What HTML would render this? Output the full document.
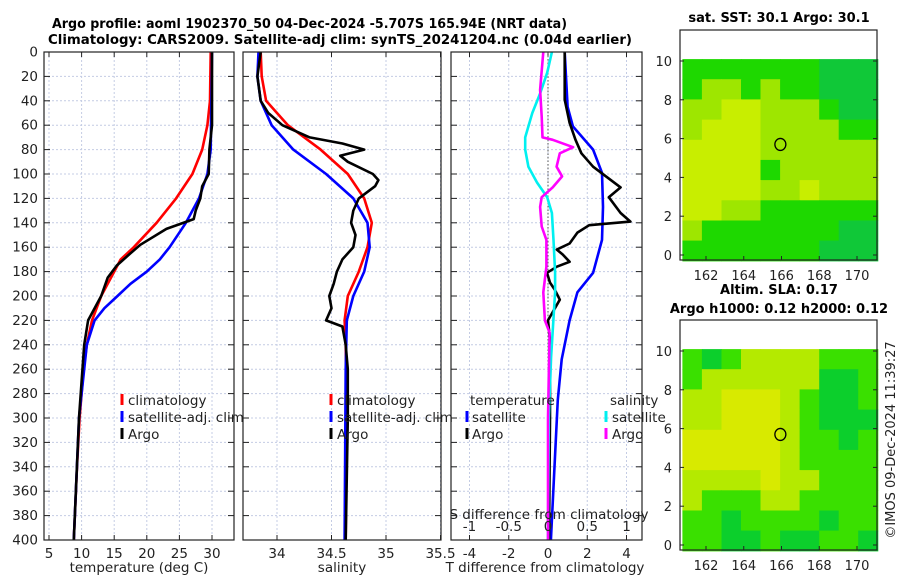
<!DOCTYPE html>
<html><head><meta charset="utf-8">
<style>
body{margin:0;background:#fff;}
svg{display:block;font-family:"DejaVu Sans","Liberation Sans",sans-serif;}
</style></head>
<body>
<svg id="fig" width="900" height="580" viewBox="0 0 900 580" xmlns="http://www.w3.org/2000/svg">
<text x="52" y="28" textLength="515" lengthAdjust="spacingAndGlyphs" font-size="13" font-weight="bold" fill="#000">Argo profile: aoml 1902370_50 04-Dec-2024 -5.707S 165.94E (NRT data)</text>
<text x="48" y="44" textLength="584" lengthAdjust="spacingAndGlyphs" font-size="13" font-weight="bold" fill="#000">Climatology: CARS2009. Satellite-adj clim: synTS_20241204.nc (0.04d earlier)</text>
<text x="779" y="22" text-anchor="middle" font-size="13" font-weight="bold">sat. SST: 30.1 Argo: 30.1</text>
<text x="779" y="294" text-anchor="middle" font-size="13" font-weight="bold">Altim. SLA: 0.17</text>
<text x="779" y="313" text-anchor="middle" font-size="13" font-weight="bold">Argo h1000: 0.12 h2000: 0.12</text>
<text transform="translate(895,440) rotate(-90)" text-anchor="middle" font-size="13" fill="#222">©IMOS 09-Dec-2024 11:39:27</text>
<g id="layer"></g>
</svg>
<script>
// ---------- data ----------
const depthTicks=[0,20,40,60,80,100,120,140,160,180,200,220,240,260,280,300,320,340,360,380,400];
// temperature panel
const tempTicks=[5,10,15,20,25,30];
const climTDepth=[0,40,60,80,100,120,140,160,170,180,190,200,220,240,260,300,340,400];
const climTVal=[29.8,29.7,29.3,28.5,27,24.5,21.5,18,16,15,14,13,11.6,10.8,10.3,9.7,9.3,8.8];
const satTDepth=[0,80,100,120,140,160,170,180,190,200,210,220,240,260,300,400];
const satTVal=[30,29.8,29.3,28,26,23.5,22,20,17.5,15.5,13.5,12,10.8,10.4,9.6,8.8];
const argoTDepth=[0,60,80,100,110,120,130,137,145,158,165,175,185,200,220,240,300,400];
const argoTVal=[30,30,29.6,29.5,28.5,28.2,27.5,27.2,23,19,17.5,15.4,14,13,11,10.4,9.6,8.8];
// salinity panel
const salTicks=[34,34.5,35,35.5];
const climSDepth=[0,20,40,60,80,100,120,140,160,180,200,220,240,300,400];
const climSVal=[33.85,33.86,33.9,34.1,34.4,34.65,34.8,34.87,34.83,34.75,34.65,34.62,34.63,34.64,34.63];
const satSDepth=[0,20,40,60,80,100,120,140,160,180,200,220,260,400];
const satSVal=[33.83,33.82,33.85,33.95,34.15,34.45,34.7,34.83,34.85,34.8,34.7,34.64,34.63,34.62];
const argoSDepth=[0,20,40,50,60,70,75,80,85,90,100,105,110,120,130,140,150,160,170,180,190,200,210,220,225,240,260,300,400];
const argoSVal=[33.85,33.82,33.85,33.92,34.05,34.3,34.6,34.8,34.58,34.65,34.88,34.93,34.9,34.75,34.7,34.68,34.72,34.7,34.6,34.55,34.52,34.48,34.5,34.45,34.6,34.63,34.65,34.65,34.63];
// difference panel
const dTTicks=[-4,-2,0,2,4];
const dSTicks=[-1,-0.5,0,0.5,1];
const satDTDepth=[0,45,61,80,99,127,154,181,197,220,252,285,400];
const satDTVal=[0.85,1.0,1.27,2.3,2.75,2.8,2.75,2.3,1.5,1.1,0.7,0.5,0.15];
const argoDTDepth=[0,39,58,72,83,94,111,119,132,139,142,148,157,162,166,172,176,181,189,195,203,220,236,300,400];
const argoDTVal=[0.85,0.85,1.1,1.4,1.7,2.3,3.7,3.1,3.7,4.2,2.1,1.5,1.1,0.45,0.75,1.1,0.45,-0.05,0.1,0.35,0.6,0.0,0.1,0.1,0.05];
const satDSDepth=[0,17,34,50,70,80,94,107,119,132,154,181,197,250,300,400];
const satDSVal=[0.05,-0.01,-0.1,-0.2,-0.29,-0.29,-0.25,-0.14,-0.01,0.05,0.07,0.09,0.09,0.04,0.01,0];
const argoDSDepth=[0,31,53,70,72,78,83,94,102,111,119,127,143,154,176,197,220,230,300,400];
const argoDSVal=[-0.06,-0.1,-0.08,-0.07,0.06,0.32,0.15,0.11,0.18,0.06,-0.08,-0.1,-0.08,-0.02,-0.02,-0.06,-0.04,0.02,0,0];
// maps (rows lat 10->0, cols lon 161->171), levels 0..3
const mapLonTicks=[162,164,166,168,170];
const mapLatTicks=[0,2,4,6,8,10];
const sstGrid=[
[1,1,1,1,1,1,1,0,0,0],
[1,2,2,1,2,1,1,0,0,0],
[2,2,3,3,2,2,2,1,0,0],
[2,3,3,3,2,2,2,2,1,1],
[3,3,3,3,2,2,2,2,2,2],
[3,3,3,3,1,2,2,2,2,2],
[3,3,3,3,2,2,3,2,2,2],
[3,3,2,2,1,1,1,1,1,1],
[2,1,1,1,1,1,1,1,0,0],
[1,1,1,1,1,1,1,0,0,0]];
const slaGrid=[
[1,0,1,2,2,2,2,1,1,1],
[1,2,2,2,2,2,2,0,0,1],
[2,2,3,3,3,2,1,0,0,1],
[2,2,3,3,3,2,1,0,0,0],
[3,3,3,3,3,2,1,1,0,1],
[3,3,3,3,3,2,1,1,1,1],
[2,2,2,2,3,2,2,1,1,1],
[2,1,1,1,2,2,1,1,1,1],
[1,1,0,1,1,1,1,0,1,1],
[1,1,0,0,1,0,0,1,1,0]];
const sstColors=['#10c838','#1ed800','#9ee600','#c8ee00'];
const slaColors=['#0ccf2c','#3ae000','#b4ea00','#d8ea00'];
const floatLon=165.94, floatLat=5.7;

// ---------- drawing ----------
const NS='http://www.w3.org/2000/svg';
const layer=document.getElementById('layer');
function mk(tag,attrs,parent){const e=document.createElementNS(NS,tag);for(const k in attrs)e.setAttribute(k,attrs[k]);(parent||layer).appendChild(e);return e;}
const yTop=52,yBot=540;
const FS=13.5;
function yD(d){return yTop+(d/400)*(yBot-yTop);}
function lin(d0,d1,r0,r1){return v=>r0+(v-d0)/(d1-d0)*(r1-r0);}

function panel(name,x0,x1,xscale,ticks,fmt,showY){
  const g=mk('g',{});
  
  
  ticks.forEach(t=>{const x=xscale(t);
    const l=mk('line',{x1:x,x2:x,y1:yTop,y2:yBot,stroke:'#c4cce4','stroke-width':1,'stroke-dasharray':'2,2'},g);
    
    mk('line',{x1:x,x2:x,y1:yBot,y2:yBot-5,stroke:'#222'},g);
    mk('line',{x1:x,x2:x,y1:yTop,y2:yTop+5,stroke:'#222'},g);
    if(fmt){const tx=mk('text',{x:x,y:yBot+18,'text-anchor':'middle','font-size':FS,fill:'#222'},g);tx.textContent=fmt(t);
      }
  });
  depthTicks.forEach(d=>{const y=yD(d);
    mk('line',{x1:x0,x2:x1,y1:y,y2:y,stroke:'#c4cce4','stroke-width':1,'stroke-dasharray':'2,2'},g);
    mk('line',{x1:x0,x2:x0+6,y1:y,y2:y,stroke:'#222'},g);
    mk('line',{x1:x1,x2:x1-6,y1:y,y2:y,stroke:'#222'},g);
    if(showY){const tx=mk('text',{x:x0-6,y:y+4.5,'text-anchor':'end','font-size':FS,fill:'#222'},g);tx.textContent=d;
      }
  });
  return g;
}
function series(g,name,depths,vals,xs,color,w){
  const pts=depths.map((d,i)=>xs(vals[i]).toFixed(1)+','+yD(d).toFixed(1)).join(' ');
  const p=mk('polyline',{points:pts,fill:'none',stroke:color,'stroke-width':w||2.6,'stroke-linejoin':'round'},g);
  
  
}
function frame(g,name,x0,x1,y0,y1){
  const r=mk('rect',{x:x0,y:y0,width:x1-x0,height:y1-y0,fill:'none',stroke:'#222','stroke-width':1.2},g);
  
}
function label(g,name,x,y,txt,anchor,size){
  const t=mk('text',{x:x,y:y,'text-anchor':anchor||'start','font-size':size||FS,fill:'#222'},g);
  t.textContent=txt;return t;
}
function legMark(g,name,x,y,color){
  const l=mk('line',{x1:x,x2:x,y1:y-11,y2:y,stroke:color,'stroke-width':3},g);
  
}

// Panel 1: temperature
const xT=lin(5,30,49,212);
const g1=panel('temperature',44,234,xT,tempTicks,t=>t,true);
series(g1,'temperature-climatology-line',climTDepth,climTVal,xT,'#ff0000');
series(g1,'temperature-satellite-adj-line',satTDepth,satTVal,xT,'#0000ff');
series(g1,'temperature-argo-line',argoTDepth,argoTVal,xT,'#000000');
frame(g1,'temperature',44,234,yTop,yBot);
label(g1,'temperature-x-axis-title',139,572,'temperature (deg C)','middle');
legMark(g1,'legend-climatology-mark',122,405,'#ff0000');label(g1,'legend-climatology',128,405,'climatology');
legMark(g1,'legend-satellite-mark',122,422,'#0000ff');label(g1,'legend-satellite-adj',128,422,'satellite-adj. clim');
legMark(g1,'legend-argo-mark',122,439,'#000');label(g1,'legend-argo',128,439,'Argo');

// Panel 2: salinity
const xS=lin(34,35.5,277,440.5);
const g2=panel('salinity',243,441,xS,salTicks,t=>t,false);
series(g2,'salinity-climatology-line',climSDepth,climSVal,xS,'#ff0000');
series(g2,'salinity-satellite-adj-line',satSDepth,satSVal,xS,'#0000ff');
series(g2,'salinity-argo-line',argoSDepth,argoSVal,xS,'#000000');
frame(g2,'salinity',243,441,yTop,yBot);
label(g2,'salinity-x-axis-title',342,572,'salinity','middle');
legMark(g2,'legend2-climatology-mark',331,405,'#ff0000');label(g2,'legend2-climatology',337,405,'climatology');
legMark(g2,'legend2-satellite-mark',331,422,'#0000ff');label(g2,'legend2-satellite-adj',337,422,'satellite-adj. clim');
legMark(g2,'legend2-argo-mark',331,439,'#000');label(g2,'legend2-argo',337,439,'Argo');

// Panel 3: differences
const xDT=lin(0,4,548,626.5);
const xDS=lin(0,1,548,626.5);
const g3=panel('difference',451,642,xDT,dTTicks,t=>t,false);
const z=mk('line',{x1:548,x2:548,y1:yTop,y2:yBot,stroke:'#555','stroke-width':1,'stroke-dasharray':'1.5,2'},g3);

series(g3,'t-diff-satellite-line',satDTDepth,satDTVal,xDT,'#0000ff');
series(g3,'t-diff-argo-line',argoDTDepth,argoDTVal,xDT,'#000000');
series(g3,'s-diff-satellite-line',satDSDepth,satDSVal,xDS,'#00f0f0');
series(g3,'s-diff-argo-line',argoDSDepth,argoDSVal,xDS,'#ff00ff');
frame(g3,'difference',451,642,yTop,yBot);
dSTicks.forEach(s=>{label(g3,'s-diff-tick-label',xDS(s),531,s,'middle');});
label(g3,'s-diff-axis-title',549,519,'S difference from climatology','middle');
label(g3,'t-diff-axis-title',545,572,'T difference from climatology','middle');
label(g3,'legend3-temperature-header',470,405,'temperature');
label(g3,'legend3-salinity-header',610,405,'salinity');
legMark(g3,'legend3-t-sat-mark',467,422,'#0000ff');label(g3,'legend3-t-satellite',472,422,'satellite');
legMark(g3,'legend3-t-argo-mark',467,439,'#000');label(g3,'legend3-t-argo',472,439,'Argo');
legMark(g3,'legend3-s-sat-mark',606,422,'#00f0f0');label(g3,'legend3-s-satellite',612,422,'satellite');
legMark(g3,'legend3-s-argo-mark',606,439,'#ff00ff');label(g3,'legend3-s-argo',612,439,'Argo');

// Maps
function drawMap(name,grid,colors,top,bottom,lat0px,lat10px){
  const g=mk('g',{});
  const xL=lin(162,170,706,857), yL=lin(0,10,lat0px,lat10px);
  const lonEdges=[160.75,171.1], latTop=10.1, latBot=-0.3;
  const nC=grid[0].length,nR=grid.length;
  const cw=(lonEdges[1]-lonEdges[0])/nC, ch=(latTop-latBot)/nR;
  grid.forEach((row,r)=>row.forEach((v,c)=>{
    const x=xL(lonEdges[0]+c*cw), y=yL(latTop-r*ch);
    const rc=mk('rect',{x:x.toFixed(1),y:y.toFixed(1),width:(xL(lonEdges[0]+(c+1)*cw)-x+0.6).toFixed(1),height:(yL(latTop-(r+1)*ch)-y+0.6).toFixed(1),fill:colors[v]},g);
    
    
  }));
  mapLonTicks.forEach(l=>{const x=xL(l);
    mk('line',{x1:x,x2:x,y1:bottom,y2:bottom-4,stroke:'#222'},g);
    label(g,name+'-lon-label',x,bottom+20,l,'middle',13);});
  mapLatTicks.forEach(l=>{const y=yL(l);
    mk('line',{x1:680,x2:684,y1:y,y2:y,stroke:'#222'},g);
    mk('line',{x1:877,x2:873,y1:y,y2:y,stroke:'#222'},g);
    label(g,name+'-lat-label',672,y+5,l,'end',13);});
  const c=mk('ellipse',{cx:xL(floatLon),cy:yL(floatLat),rx:5.5,ry:6,fill:'none',stroke:'#000','stroke-width':1.3},g);
  
  mk('rect',{x:680,y:top,width:197,height:bottom-top,fill:'none',stroke:'#222','stroke-width':1.2},g);
}
drawMap('sst-map',sstGrid,sstColors,30,260,255,61);
drawMap('sla-map',slaGrid,slaColors,320,550,545,351);
</script>
</body></html>
